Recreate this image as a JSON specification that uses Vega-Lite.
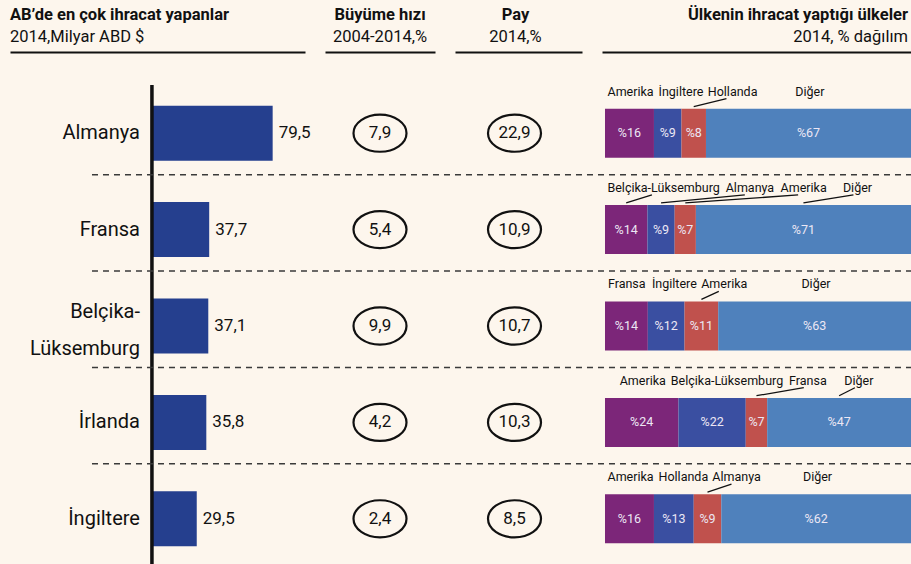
{
  "$schema": "https://vega.github.io/schema/vega-lite/v6.json",
  "background": "#fdf6ed",
  "padding": {"left": 10, "top": 7, "right": 0, "bottom": 0},
  "config": {
    "font": "Roboto",
    "view": {"stroke": null},
    "locale": {"number": {"decimal": ",", "thousands": ".", "grouping": [3], "currency": ["", " $"]}},
    "title": {"font": "Roboto", "fontSize": 16.5, "fontWeight": "bold", "color": "#111111", "subtitleFont": "Roboto", "subtitleFontSize": 16.5, "subtitleColor": "#111111", "subtitlePadding": 5, "offset": 7, "frame": "group"}
  },
  "datasets": {
    "ulkeler": [
      {"ulke": "Almanya", "ihracat": 79.5, "buyume": 7.9, "pay": 22.9},
      {"ulke": "Fransa", "ihracat": 37.7, "buyume": 5.4, "pay": 10.9},
      {"ulke": "Belçika-Lüksemburg", "ihracat": 37.1, "buyume": 9.9, "pay": 10.7},
      {"ulke": "İrlanda", "ihracat": 35.8, "buyume": 4.2, "pay": 10.3},
      {"ulke": "İngiltere", "ihracat": 29.5, "buyume": 2.4, "pay": 8.5}
    ],
    "dagilim": [
      {"ulke": "Almanya", "dest": "Amerika", "pct": 16},
      {"ulke": "Almanya", "dest": "İngiltere", "pct": 9},
      {"ulke": "Almanya", "dest": "Hollanda", "pct": 8},
      {"ulke": "Almanya", "dest": "Diğer", "pct": 67},
      {"ulke": "Fransa", "dest": "Belçika-Lüksemburg", "pct": 14},
      {"ulke": "Fransa", "dest": "Almanya", "pct": 9},
      {"ulke": "Fransa", "dest": "Amerika", "pct": 7},
      {"ulke": "Fransa", "dest": "Diğer", "pct": 71},
      {"ulke": "Belçika-Lüksemburg", "dest": "Fransa", "pct": 14},
      {"ulke": "Belçika-Lüksemburg", "dest": "İngiltere", "pct": 12},
      {"ulke": "Belçika-Lüksemburg", "dest": "Amerika", "pct": 11},
      {"ulke": "Belçika-Lüksemburg", "dest": "Diğer", "pct": 63},
      {"ulke": "İrlanda", "dest": "Amerika", "pct": 24},
      {"ulke": "İrlanda", "dest": "Belçika-Lüksemburg", "pct": 22},
      {"ulke": "İrlanda", "dest": "Fransa", "pct": 7},
      {"ulke": "İrlanda", "dest": "Diğer", "pct": 47},
      {"ulke": "İngiltere", "dest": "Amerika", "pct": 16},
      {"ulke": "İngiltere", "dest": "Hollanda", "pct": 13},
      {"ulke": "İngiltere", "dest": "Almanya", "pct": 9},
      {"ulke": "İngiltere", "dest": "Diğer", "pct": 62}
    ]
  },
  "bounds": "flush",
  "spacing": 20,
  "hconcat": [
    {
      "width": 295,
      "height": 482,
      "data": {"name": "ulkeler"},
      "title": {"text": "AB’de en çok ihracat yapanlar", "subtitle": "2014,Milyar ABD $", "anchor": "start"},
      "transform": [{"calculate": "replace(datum.ulke, '-', '-\\n')", "as": "etiket"}],
      "layer": [
        {
          "mark": {"type": "bar", "color": "#253f8e", "height": 55},
          "encoding": {
            "y": {"field": "ulke", "type": "nominal", "scale": {"domain": ["Almanya", "Fransa", "Belçika-Lüksemburg", "İrlanda", "İngiltere"], "paddingInner": 0, "paddingOuter": 0}, "axis": null},
            "x": {"field": "ihracat", "type": "quantitative", "title": null, "scale": {"domain": [-93.5, 100.8], "nice": false, "zero": false},
              "axis": {"orient": "top", "offset": 33, "domain": true, "domainColor": "#111111", "domainWidth": 2.2, "domainCap": "butt", "ticks": false, "labels": false, "grid": false, "title": null}}
          }
        },
        {
          "mark": {"type": "text", "align": "left", "baseline": "middle", "dx": 6, "fontSize": 17, "color": "#111111"},
          "encoding": {
            "y": {"field": "ulke", "type": "nominal", "axis": null},
            "x": {"field": "ihracat", "type": "quantitative", "title": null},
            "text": {"field": "ihracat", "type": "quantitative", "format": ".1f"}
          }
        },
        {
          "transform": [{"filter": "indexof(datum.ulke, '-') < 0"}],
          "mark": {"type": "text", "align": "right", "baseline": "middle", "dx": -12, "dy": 0, "fontSize": 20, "color": "#111111"},
          "encoding": {
            "y": {"field": "ulke", "type": "nominal", "axis": null},
            "x": {"datum": 0, "title": null},
            "text": {"field": "etiket", "type": "nominal"}
          }
        },
        {
          "transform": [{"filter": "indexof(datum.ulke, '-') >= 0"}],
          "mark": {"type": "text", "align": "right", "baseline": "middle", "dx": -12, "dy": -14, "fontSize": 20, "lineBreak": "\n", "lineHeight": 37, "color": "#111111"},
          "encoding": {
            "y": {"field": "ulke", "type": "nominal", "axis": null},
            "x": {"datum": 0, "title": null},
            "text": {"field": "etiket", "type": "nominal"}
          }
        },
        {
          "mark": {"type": "rule", "color": "#111111", "strokeWidth": 2.5},
          "encoding": {"x": {"datum": 0, "title": null}}
        },
        {
          "transform": [{"filter": "datum.ulke !== 'İngiltere'"}],
          "mark": {"type": "rule", "color": "#3a3a3a", "strokeWidth": 1.5, "strokeDash": [6, 5]},
          "encoding": {
            "y": {"field": "ulke", "type": "nominal", "bandPosition": 0.93, "axis": null},
            "x": {"datum": -39.5, "title": null},
            "x2": {"datum": 500}
          }
        }
      ]
    },
    {
      "width": 110,
      "height": 482,
      "data": {"name": "ulkeler"},
      "title": {"text": "Büyüme hızı", "subtitle": "2004-2014,%", "anchor": "middle"},
      "encoding": {
        "y": {"field": "ulke", "type": "nominal", "scale": {"domain": ["Almanya", "Fransa", "Belçika-Lüksemburg", "İrlanda", "İngiltere"], "paddingInner": 0, "paddingOuter": 0}, "axis": null},
        "x": {"datum": 0, "type": "quantitative", "title": null, "scale": {"domain": [-1, 1], "nice": false, "zero": false},
          "axis": {"orient": "top", "offset": 33, "domain": true, "domainColor": "#111111", "domainWidth": 2.2, "domainCap": "butt", "ticks": false, "labels": false, "grid": false, "title": null}}
      },
      "layer": [
        {"mark": {"type": "point", "shape": "M-1,0C-1,-0.3866,-0.5523,-0.7,0,-0.7C0.5523,-0.7,1,-0.3866,1,0C1,0.3866,0.5523,0.7,0,0.7C-0.5523,0.7,-1,0.3866,-1,0Z", "size": 2809, "filled": false, "stroke": "#111111", "strokeWidth": 2.2, "opacity": 1}},
        {"mark": {"type": "text", "fontSize": 17, "color": "#111111", "baseline": "middle"}, "encoding": {"text": {"field": "buyume", "type": "quantitative", "format": ".1f"}}}
      ]
    },
    {
      "width": 127,
      "height": 482,
      "data": {"name": "ulkeler"},
      "title": {"text": "Pay", "subtitle": "2014,%", "anchor": "middle", "dx": -3},
      "encoding": {
        "y": {"field": "ulke", "type": "nominal", "scale": {"domain": ["Almanya", "Fransa", "Belçika-Lüksemburg", "İrlanda", "İngiltere"], "paddingInner": 0, "paddingOuter": 0}, "axis": null},
        "x": {"datum": 0, "type": "quantitative", "title": null, "scale": {"domain": [-0.937, 1.063], "nice": false, "zero": false},
          "axis": {"orient": "top", "offset": 33, "domain": true, "domainColor": "#111111", "domainWidth": 2.2, "domainCap": "butt", "ticks": false, "labels": false, "grid": false, "title": null}}
      },
      "layer": [
        {"mark": {"type": "point", "shape": "M-1,0C-1,-0.3866,-0.5523,-0.7,0,-0.7C0.5523,-0.7,1,-0.3866,1,0C1,0.3866,0.5523,0.7,0,0.7C-0.5523,0.7,-1,0.3866,-1,0Z", "size": 2809, "filled": false, "stroke": "#111111", "strokeWidth": 2.2, "opacity": 1}},
        {"mark": {"type": "text", "fontSize": 17, "color": "#111111", "baseline": "middle"}, "encoding": {"text": {"field": "pay", "type": "quantitative", "format": ".1f"}}}
      ]
    },
    {
      "width": 309,
      "height": 482,
      "data": {"name": "dagilim"},
      "title": {"text": "Ülkenin ihracat yaptığı ülkeler", "subtitle": "2014, % dağılım", "anchor": "end", "dx": -3},
      "transform": [
        {"window": [{"op": "row_number", "as": "idx"}], "groupby": ["ulke"]},
        {"joinaggregate": [{"op": "sum", "field": "pct", "as": "toplam"}], "groupby": ["ulke"]},
        {"window": [{"op": "sum", "field": "pct", "as": "kum"}], "groupby": ["ulke"], "sort": [{"field": "idx"}], "frame": [null, 0]},
        {"calculate": "(datum.kum - datum.pct) * 100 / datum.toplam", "as": "s0"},
        {"calculate": "datum.kum * 100 / datum.toplam", "as": "s1"},
        {"calculate": "(datum.s0 + datum.s1) / 2", "as": "mid"},
        {"calculate": "'%' + datum.pct", "as": "yuzde"},
        {"calculate": "length(datum.dest) - length(replace(datum.dest, regexp('[iltrİı-]', 'g'), ''))", "as": "dar"},
        {"calculate": "length(datum.dest) - length(replace(datum.dest, regexp('[mM]', 'g'), ''))", "as": "genis"},
        {"calculate": "(6.8 * length(datum.dest) - 3.8 * datum.dar + 4 * datum.genis) / 3.06", "as": "lw"},
        {"calculate": "datum.lw + (datum.idx === 3 ? 6 : 2.3)", "as": "lwg"},
        {"window": [{"op": "sum", "field": "lwg", "as": "kumlw"}], "groupby": ["ulke"], "sort": [{"field": "idx"}], "frame": [null, 0]},
        {"calculate": "datum.kumlw - datum.lwg", "as": "onceki"},
        {"calculate": "max(datum.mid - datum.lw / 2, 0.8) - datum.onceki", "as": "fark"},
        {"window": [{"op": "max", "field": "fark", "as": "maxfark"}], "groupby": ["ulke"], "sort": [{"field": "idx"}], "frame": [null, 0]},
        {"calculate": "datum.onceki + datum.maxfark", "as": "start"},
        {"calculate": "abs(datum.start + datum.lw / 2 - datum.mid) > 5", "as": "lead"},
        {"calculate": "datum.start + 0.4 * datum.lw", "as": "lineEnd"}
      ],
      "layer": [
        {
          "mark": {"type": "bar", "height": 49},
          "encoding": {
            "y": {"field": "ulke", "type": "nominal", "scale": {"domain": ["Almanya", "Fransa", "Belçika-Lüksemburg", "İrlanda", "İngiltere"], "paddingInner": 0, "paddingOuter": 0}, "axis": null},
            "x": {"field": "s0", "type": "quantitative", "title": null, "scale": {"domain": [-0.98, 100], "nice": false, "zero": false},
              "axis": {"orient": "top", "offset": 33, "domain": true, "domainColor": "#111111", "domainWidth": 2.2, "domainCap": "butt", "ticks": false, "labels": false, "grid": false, "title": null}},
            "x2": {"field": "s1"},
            "color": {"field": "idx", "type": "ordinal", "scale": {"domain": [1, 2, 3, 4], "range": ["#7c2679", "#3a4fa1", "#c0514d", "#4f81bc"]}, "legend": null}
          }
        },
        {
          "mark": {"type": "text", "fontSize": 12.5, "color": "#ece7f4", "baseline": "middle"},
          "encoding": {
            "y": {"field": "ulke", "type": "nominal", "axis": null},
            "x": {"field": "mid", "type": "quantitative", "title": null},
            "text": {"field": "yuzde", "type": "nominal"}
          }
        },
        {
          "mark": {"type": "text", "fontSize": 12.5, "color": "#111111", "align": "left", "baseline": "alphabetic", "dy": -13},
          "encoding": {
            "y": {"field": "ulke", "type": "nominal", "bandPosition": 0.244, "axis": null},
            "x": {"field": "start", "type": "quantitative", "title": null},
            "text": {"field": "dest", "type": "nominal"}
          }
        },
        {
          "transform": [{"filter": "datum.lead"}],
          "mark": {"type": "rule", "color": "#111111", "strokeWidth": 1.3, "yOffset": -2, "y2Offset": -10},
          "encoding": {
            "y": {"field": "ulke", "type": "nominal", "bandPosition": 0.244, "axis": null},
            "y2": {"field": "ulke", "bandPosition": 0.244},
            "x": {"field": "mid", "type": "quantitative", "title": null},
            "x2": {"field": "lineEnd"}
          }
        }
      ]
    }
  ]
}
